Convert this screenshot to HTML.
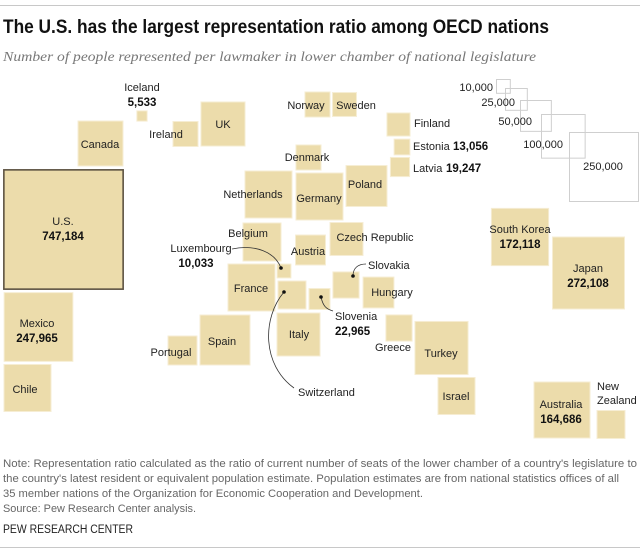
<!DOCTYPE html>
<html><head><meta charset="utf-8">
<style>
html,body{margin:0;padding:0;background:#fff;}
svg{display:block;font-family:"Liberation Sans",sans-serif;}
.lbl{font-size:11px;fill:#222;}
.val{font-size:11.5px;font-weight:bold;fill:#111;}
</style></head>
<body>
<svg id="chart" width="640" height="555" viewBox="0 0 640 555" xmlns="http://www.w3.org/2000/svg">
<line x1="0" y1="5.5" x2="640" y2="5.5" stroke="#c8c8c8" stroke-width="1"/>
<text x="3" y="33" font-size="19" font-weight="bold" fill="#111" textLength="546" lengthAdjust="spacingAndGlyphs">The U.S. has the largest representation ratio among OECD nations</text>
<text x="3" y="61" font-size="14" font-style="italic" fill="#777" font-family="Liberation Serif, serif" textLength="533" lengthAdjust="spacingAndGlyphs">Number of people represented per lawmaker in lower chamber of national legislature</text>
<g id="legend"></g>
<g id="squares"></g>
<g id="labels"></g>
<g fill="none" stroke="#333" stroke-width="0.8">
<path d="M232,249 C255,244 275,252 281,268"/>
<path d="M284,292 C262,318 262,365 294,388"/>
<path d="M321,297 C323,306 326,309 333,311"/>
<path d="M353,276 C353,268 358,264 366,264"/>
</g>
<g fill="#111">
<circle cx="281" cy="268" r="1.8"/>
<circle cx="284" cy="292" r="1.8"/>
<circle cx="321" cy="297" r="1.8"/>
<circle cx="353" cy="276" r="1.8"/>
</g>
<g font-size="11" fill="#666">
<text x="3" y="467" textLength="634" lengthAdjust="spacingAndGlyphs">Note: Representation ratio calculated as the ratio of current number of seats of the lower chamber of a country's legislature to</text>
<text x="3" y="482" textLength="616" lengthAdjust="spacingAndGlyphs">the country's latest resident or equivalent population estimate. Population estimates are from national statistics offices of all</text>
<text x="3" y="497" textLength="420" lengthAdjust="spacingAndGlyphs">35 member nations of the Organization for Economic Cooperation and Development.</text>
<text x="3" y="512" textLength="193" lengthAdjust="spacingAndGlyphs">Source: Pew Research Center analysis.</text>
</g>
<text x="3" y="533" font-size="11.5" fill="#222" textLength="130" lengthAdjust="spacingAndGlyphs">PEW RESEARCH CENTER</text>
<line x1="0" y1="547.5" x2="640" y2="547.5" stroke="#c8c8c8" stroke-width="1"/>
</svg>
<script>
const countries = ["U.S.","Canada","Iceland","Ireland","UK","Norway","Sweden","Finland","Estonia","Latvia","Denmark","Germany","Poland","Netherlands","Belgium","Austria","Czech Republic","Luxembourg","France","Switzerland","Slovenia","Slovakia","Hungary","Italy","Spain","Portugal","Greece","Turkey","Israel","South Korea","Japan","Mexico","Chile","Australia","New Zealand"];
const values = [747184,106000,5533,32800,102000,33000,30000,28000,13056,19247,33000,116000,88000,116000,76000,47000,57000,10033,116000,41000,22965,36000,50000,97000,131000,44000,36000,148000,72000,172118,272108,247965,116000,164686,41000];
const legendValues = [10000,25000,50000,100000,250000];
const legendLabels = ["10,000","25,000","50,000","100,000","250,000"];
// layout (centers of squares), not data
const centerX = [63.5,100.5,142,185.5,223,317.5,344.5,398.5,402,400,308.5,319.5,366.5,268.5,262,310.5,346.5,284,251.5,292,319.5,346,378.5,298.5,225,182.5,399,441.5,456.5,520,588.5,38.5,27.5,562,611];
const centerY = [229.5,143.5,116,134,124,104.5,104.5,124.5,147,167,157.5,196.5,186,194.5,242,250,239,271,287.5,295,299,285,292.5,334.5,340,350.5,328,348,396,237,273,327,388,410,424.5];
const legendLeft = [496,505,520,541,569];
const legendTop = [79,88,100,114,132];

const K = 0.138;
function side(v){ return K*Math.sqrt(v); }
const NS = "http://www.w3.org/2000/svg";

const lg = document.getElementById('legend');
legendValues.forEach((v,i)=>{
  const s = side(v);
  const r = document.createElementNS(NS,'rect');
  r.setAttribute('x', legendLeft[i]+0.5);
  r.setAttribute('y', legendTop[i]+0.5);
  r.setAttribute('width', s);
  r.setAttribute('height', s);
  r.setAttribute('fill', 'none');
  r.setAttribute('stroke', '#cfcfcf');
  
  
  lg.appendChild(r);
});
const legendText = [[493,91,'end'],[515,106,'end'],[532,125,'end'],[563,148,'end'],[603,170,'middle']];
legendLabels.forEach((t,i)=>{
  const e = document.createElementNS(NS,'text');
  e.setAttribute('x', legendText[i][0]);
  e.setAttribute('y', legendText[i][1]);
  e.setAttribute('text-anchor', legendText[i][2]);
  e.setAttribute('class','lbl');
  e.setAttribute('fill','#333');
  e.textContent = t;
  
  
  lg.appendChild(e);
});

const sq = document.getElementById('squares');
countries.forEach((c,i)=>{
  const s = side(values[i]);
  const r = document.createElementNS(NS,'rect');
  const isUS = c === "U.S.";
  r.setAttribute('x', centerX[i]-s/2);
  r.setAttribute('y', centerY[i]-s/2);
  r.setAttribute('width', s);
  r.setAttribute('height', s);
  r.setAttribute('fill', '#ecdcab');
  r.setAttribute('stroke', isUS ? '#5e5343' : '#f6edd3');
  r.setAttribute('stroke-width', isUS ? 1.6 : 1);
  
  
  sq.appendChild(r);
});

const labelPos = {
 "U.S.":[63,225,'middle',63,240,'middle',1],
 "Canada":[100,148,'middle'],
 "Iceland":[142,91,'middle',142,106,'middle',1],
 "Ireland":[166,138,'middle'],
 "UK":[223,128,'middle'],
 "Norway":[306,109,'middle'],
 "Sweden":[356,109,'middle'],
 "Finland":[414,127,'start'],
 "Estonia":[413,150,'start',453,150,'start',1],
 "Latvia":[413,172,'start',446,172,'start',1],
 "Denmark":[307,161,'middle'],
 "Germany":[319,202,'middle'],
 "Poland":[365,188,'middle'],
 "Netherlands":[253,198,'middle'],
 "Belgium":[248,237,'middle'],
 "Austria":[308,255,'middle'],
 "Czech Republic":[375,241,'middle'],
 "Luxembourg":[201,252,'middle',196,267,'middle',1],
 "France":[251,292,'middle'],
 "Switzerland":[298,396,'start'],
 "Slovenia":[335,320,'start',335,335,'start',1],
 "Slovakia":[368,269,'start'],
 "Hungary":[392,296,'middle'],
 "Italy":[299,338,'middle'],
 "Spain":[222,345,'middle'],
 "Portugal":[171,356,'middle'],
 "Greece":[393,351,'middle'],
 "Turkey":[441,357,'middle'],
 "Israel":[456,400,'middle'],
 "South Korea":[520,233,'middle',520,248,'middle',1],
 "Japan":[588,272,'middle',588,287,'middle',1],
 "Mexico":[37,327,'middle',37,342,'middle',1],
 "Chile":[25,393,'middle'],
 "Australia":[561,408,'middle',561,423,'middle',1],
 "New Zealand":[597,390,'start']
};
const lb = document.getElementById('labels');
countries.forEach((c,i)=>{
  const p = labelPos[c];
  const slug = c.toLowerCase().replace(/[^a-z]+/g,'-').replace(/-$/,'');
  if(c === "New Zealand"){
    ["New","Zealand"].forEach((w,j)=>{
      const t = document.createElementNS(NS,'text');
      t.setAttribute('x', p[0]); t.setAttribute('y', p[1]+j*14);
      t.setAttribute('class','lbl');
      t.textContent = w;
      
      
      lb.appendChild(t);
    });
    return;
  }
  const t = document.createElementNS(NS,'text');
  t.setAttribute('x', p[0]); t.setAttribute('y', p[1]);
  t.setAttribute('text-anchor', p[2]);
  t.setAttribute('class','lbl');
  t.textContent = c;
  
  
  lb.appendChild(t);
  if(p[6]){
    const v = document.createElementNS(NS,'text');
    v.setAttribute('x', p[3]); v.setAttribute('y', p[4]);
    v.setAttribute('text-anchor', p[5]);
    v.setAttribute('class','val');
    v.textContent = values[i].toLocaleString('en-US');
    
    
    lb.appendChild(v);
  }
});
</script>
</body></html>
